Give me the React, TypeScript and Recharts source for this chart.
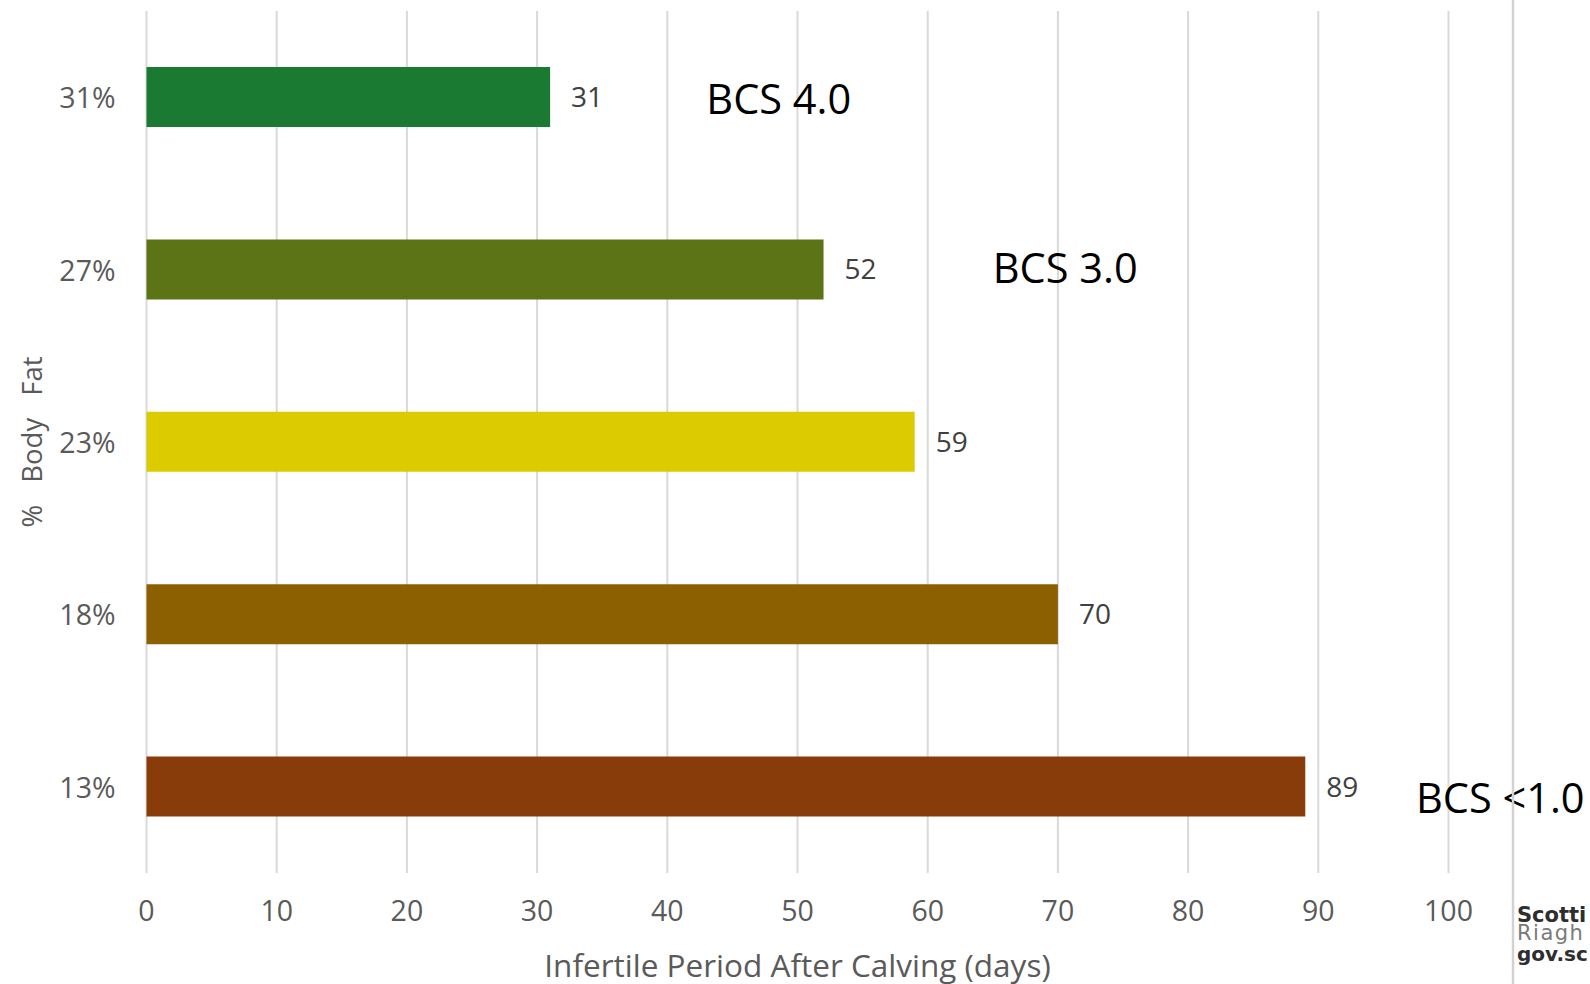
import React from 'react';
import {
  BarChart,
  Bar,
  XAxis,
  YAxis,
  CartesianGrid,
  Cell,
  LabelList,
  ReferenceDot,
} from 'recharts';

// Body-fat categories (top to bottom) and the infertile period after calving, in days
const bodyFat = ['31%', '27%', '23%', '18%', '13%'];
const infertileDays = [31, 52, 59, 70, 89];
const barColors = ['#1a7a32', '#5c7416', '#dccb00', '#8c5f00', '#873c0a'];
const dayTicks = [0, 10, 20, 30, 40, 50, 60, 70, 80, 90, 100];

// Body condition score notes, placed at a day value on the same row as their category
const bcsNotes = [
  { fat: '31%', text: 'BCS 4.0', at: 43.0 },
  { fat: '27%', text: 'BCS 3.0', at: 65.0 },
  { fat: '13%', text: 'BCS <1.0', at: 97.5 },
];
const bcsNudge = [1, -3, 10];

// Corner logo, as much of it as fits on the page
const logoLines = ['Scotti', 'Riagh', 'gov.sc'];

const data = bodyFat.map((fat, i) => ({ fat, days: infertileDays[i] }));

const FONT = '"Open Sans", sans-serif';

const DayTick = (props: any) => {
  const { x, y, payload } = props;
  return (
    <text
      x={x}
      y={y + 37}
      textAnchor="middle"
      dominantBaseline="central"
      fontFamily={FONT}
      fontSize={28.5}
      fill="#5a5a5a"
    >
      {payload.value}
    </text>
  );
};

const FatTick = (props: any) => {
  const { x, y, payload } = props;
  return (
    <text
      x={x}
      y={y}
      textAnchor="end"
      dominantBaseline="central"
      fontFamily={FONT}
      fontSize={28.5}
      fill="#5a5a5a"
    >
      {payload.value}
    </text>
  );
};

const XTitle = (props: any) => {
  const vb = props.viewBox || {};
  return (
    <text
      x={vb.x + vb.width / 2}
      y={vb.y + 91}
      textAnchor="middle"
      dominantBaseline="central"
      fontFamily={FONT}
      fontSize={31.5}
      fill="#5a5a5a"
    >
      Infertile Period After Calving (days)
    </text>
  );
};

const YTitle = (props: any) => {
  const vb = props.viewBox || {};
  const cx = 31;
  const cy = vb.y + vb.height / 2;
  return (
    <text
      x={cx}
      y={cy}
      transform={`rotate(-90 ${cx} ${cy})`}
      textAnchor="middle"
      dominantBaseline="central"
      fontFamily={FONT}
      fontSize={27.5}
      fill="#5a5a5a"
      style={{ wordSpacing: 15 }}
    >
      % Body Fat
    </text>
  );
};

const BcsLabel = (props: any) => {
  const vb = props.viewBox || {};
  return (
    <text
      x={vb.x}
      y={vb.y + (props.nudge || 0)}
      textAnchor="start"
      dominantBaseline="central"
      fontFamily={FONT}
      fontSize={41.5}
      fill="#000000"
    >
      {props.text}
    </text>
  );
};

export default function App() {
  return (
    <div
      style={{
        position: 'absolute',
        left: 0,
        top: 0,
        width: 1590,
        height: 984,
        overflow: 'hidden',
        background: '#ffffff',
      }}
    >
      <BarChart
        width={1590}
        height={984}
        data={data}
        layout="vertical"
        margin={{ top: 11, right: 141.5, bottom: 0, left: 0 }}
        barSize={60}
      >
        <CartesianGrid horizontal={false} stroke="#d9d9d9" strokeWidth={2} />
        <XAxis
          type="number"
          dataKey="days"
          domain={[0, 100]}
          ticks={dayTicks}
          interval={0}
          axisLine={false}
          tickLine={false}
          tickSize={0}
          tickMargin={0}
          height={111}
          tick={DayTick}
          label={{ content: XTitle }}
        />
        <YAxis
          type="category"
          dataKey="fat"
          width={146.5}
          axisLine={false}
          tickLine={false}
          tickSize={0}
          tickMargin={31}
          tick={FatTick}
          label={{ content: YTitle }}
        />
        <Bar dataKey="days" isAnimationActive={false}>
          {data.map((d, i) => (
            <Cell key={d.fat} fill={barColors[i]} />
          ))}
          <LabelList
            dataKey="days"
            position="right"
            offset={21}
            fill="#404040"
            fontSize={28}
            fontFamily={FONT}
          />
        </Bar>
        {bcsNotes.map((n, i) => (
          <ReferenceDot
            key={n.text}
            x={n.at}
            y={n.fat}
            r={0}
            fill="none"
            stroke="none"
            ifOverflow="visible"
            label={<BcsLabel text={n.text} nudge={bcsNudge[i]} />}
          />
        ))}
      </BarChart>
      <svg
        width={1590}
        height={984}
        style={{ position: 'absolute', left: 0, top: 0, pointerEvents: 'none' }}
      >
        <line x1={1513} y1={0} x2={1513} y2={984} stroke="#d2d2d2" strokeWidth={2.5} />
        <text x={1517} y={922} fontFamily="DejaVu Sans" fontWeight="bold" fontSize={21} fill="#2e2e2e">
          {logoLines[0]}
        </text>
        <text
          x={1517}
          y={940}
          fontFamily="DejaVu Sans"
          fontSize={21}
          fill="#7a7a7a"
          style={{ letterSpacing: 1.5 }}
        >
          {logoLines[1]}
        </text>
        <text x={1517} y={961} fontFamily="DejaVu Sans" fontWeight="bold" fontSize={20} fill="#2e2e2e">
          {logoLines[2]}
        </text>
      </svg>
    </div>
  );
}
